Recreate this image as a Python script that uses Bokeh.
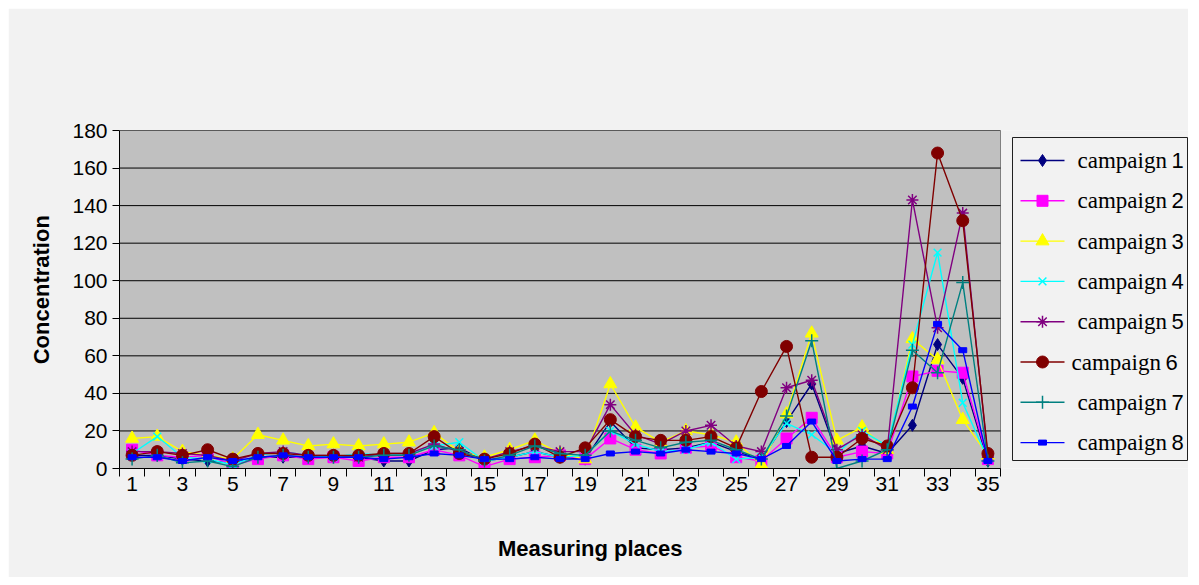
from bokeh.plotting import figure
from bokeh.models import FixedTicker, Range1d, LinearAxis
from bokeh.core.properties import value
from bokeh.embed import file_html
from bokeh.resources import INLINE

places = list(range(1, 36))
tick_labels = list(range(1, 36, 2))
y_ticks = list(range(0, 181, 20))

c1 = [7, 7, 5, 4, 3, 6, 6, 6, 6, 6, 4, 4, 10, 11, 4, 6, 9, 6, 5, 25, 11, 10, 11, 14, 9, 5, 25, 45, 8, 12, 8, 23, 66, 48, 4]
c2 = [10, 7, 6, 7, 2, 5, 7, 5, 6, 4, 6, 6, 10, 7, 1, 5, 6, 7, 5, 16, 10, 8, 11, 12, 6, 4, 16, 27, 6, 9, 8, 49, 52, 51, 5]
c3 = [16, 17, 9, 7, 5, 18, 15, 12, 13, 12, 13, 14, 19, 9, 6, 10, 15, 8, 5, 45, 22, 14, 20, 18, 14, 2, 29, 72, 15, 22, 10, 69, 58, 26, 7]
c4 = [8, 17, 6, 5, 2, 7, 9, 7, 6, 8, 7, 8, 12, 14, 4, 6, 9, 6, 7, 20, 13, 9, 10, 14, 5, 6, 24, 18, 8, 20, 12, 66, 115, 35, 5]
c5 = [9, 9, 8, 7, 4, 8, 9, 7, 7, 6, 8, 8, 13, 9, 5, 9, 12, 9, 9, 34, 18, 13, 20, 23, 12, 9, 43, 47, 10, 18, 10, 143, 75, 136, 6]
c6 = [7, 9, 7, 10, 5, 8, 8, 7, 7, 7, 8, 8, 17, 8, 5, 8, 13, 6, 11, 26, 17, 15, 15, 17, 11, 41, 65, 6, 6, 16, 12, 43, 168, 132, 8]
c7 = [5, 7, 3, 4, 1, 6, 7, 6, 6, 6, 7, 7, 12, 10, 4, 7, 12, 8, 7, 20, 15, 11, 14, 15, 10, 5, 28, 68, 0, 4, 10, 63, 51, 99, 4]
c8 = [6, 6, 4, 6, 4, 6, 7, 6, 6, 6, 5, 6, 8, 7, 5, 5, 6, 5, 5, 8, 9, 8, 10, 9, 8, 5, 12, 25, 4, 5, 5, 33, 77, 63, 4]

names = ["campaign 1", "campaign 2", "campaign 3", "campaign 4",
         "campaign 5", "campaign 6", "campaign 7", "campaign 8"]
values = [c1, c2, c3, c4, c5, c6, c7, c8]
colors = ["#000080", "#FF00FF", "#FFFF00", "#00FFFF",
          "#800080", "#800000", "#008080", "#0000FF"]
markers = ["diamond", "square", "triangle", "x", "asterisk", "circle", "cross", "dashrect"]
msizes = [12, 11, 13, 11, 12, 12, 13, 0]

x_title = "Measuring places"
y_title = "Concentration"

BG = "#f2f2f2"
FONT = "Liberation Sans"

# geometry of the figure (figure pixels); the figure sits at page offset (8, 8)
FIG_W, FIG_H = 1180, 569
LEFT, TOP, BOTTOM = 111, 122, 109
PLOT_W = 881                      # width of the grey plot area (35 categories)
UNIT = PLOT_W / 35.0
X0, X1 = 0.5, 35.5
XMAX = X0 + (FIG_W - LEFT) / UNIT  # frame extends under the legend
FRAME_H = FIG_H - TOP - BOTTOM
YMAX = 180


def px_x(page_x):
    return X0 + (page_x - 8 - LEFT) / UNIT


def px_y(page_y):
    return (TOP + FRAME_H - (page_y - 8)) * YMAX / FRAME_H


p = figure(width=FIG_W, height=FIG_H, x_range=Range1d(X0, XMAX), y_range=Range1d(0, YMAX),
           output_backend="svg", toolbar_location=None,
           min_border_left=LEFT, min_border_right=0, min_border_top=TOP, min_border_bottom=BOTTOM)
p.styles = {"margin-left": "8px", "margin-top": "8px"}
p.background_fill_color = BG
p.border_fill_color = BG
p.outline_line_color = None
p.xgrid.grid_line_color = None
p.ygrid.grid_line_color = None

# grey plot area and horizontal gridlines
p.quad(left=[X0], right=[X1], bottom=[0], top=[YMAX], fill_color="#c0c0c0", line_color="#808080")
p.segment(x0=[X0] * len(y_ticks), y0=y_ticks, x1=[X1] * len(y_ticks), y1=y_ticks,
          line_color="black", line_width=1)

p.yaxis.ticker = FixedTicker(ticks=y_ticks)
p.xaxis.ticker = FixedTicker(ticks=tick_labels, minor_ticks=[i + 0.5 for i in range(0, 36)])
p.xaxis.bounds = (X0, X1)
for ax in (p.xaxis[0], p.yaxis[0]):
    ax.axis_line_color = "black"
    ax.major_label_text_font = FONT
    ax.major_label_text_font_size = "21px"
    ax.major_label_text_color = "black"
p.yaxis.major_tick_out = 7
p.yaxis.major_tick_in = 0
p.yaxis.minor_tick_line_color = None
p.yaxis.major_tick_line_color = "black"
p.yaxis.major_label_standoff = 5
p.xaxis.major_tick_out = 0
p.xaxis.major_tick_in = 0
p.xaxis.major_tick_line_color = None
p.xaxis.minor_tick_out = 8
p.xaxis.minor_tick_in = 0
p.xaxis.minor_tick_line_color = "black"
p.xaxis.major_label_standoff = 0

# axis titles as single-tick axes (off-center placement like the original)
xt_pos = 19.2
yt_pos = 95.2
xt = LinearAxis(ticker=FixedTicker(ticks=[xt_pos]), major_label_overrides={xt_pos: x_title})
yt = LinearAxis(ticker=FixedTicker(ticks=[yt_pos]), major_label_overrides={yt_pos: y_title},
                major_label_orientation="vertical")
for ax, so in ((xt, 42), (yt, 15)):
    ax.axis_line_color = None
    ax.major_tick_line_color = None
    ax.minor_tick_line_color = None
    ax.major_tick_out = 0
    ax.major_tick_in = 0
    ax.major_label_standoff = so
    ax.major_label_text_font = FONT
    ax.major_label_text_font_style = "bold"
    ax.major_label_text_font_size = "22px"
    ax.major_label_text_color = "black"
p.add_layout(xt, "below")
p.add_layout(yt, "left")


def draw_marker(fig, xs, ys, col, mk, ms):
    if mk == "dashrect":
        fig.rect(xs, ys, width=8, height=5, width_units="screen", height_units="screen",
                 fill_color=col, line_color=col)
    elif mk in ("x", "asterisk", "cross"):
        fig.scatter(xs, ys, marker=mk, size=ms, line_color=col, line_width=1.5)
    else:
        fig.scatter(xs, ys, marker=mk, size=ms, fill_color=col, line_color=col)


for vals, col, mk, ms in zip(values, colors, markers, msizes):
    p.line(places, vals, line_color=col, line_width=1.4)
    draw_marker(p, places, vals, col, mk, ms)

# legend box (drawn manually so the number can use a different font, as in the original)
p.quad(left=[px_x(1012)], right=[px_x(1187)], top=[px_y(137)], bottom=[px_y(460)],
       fill_color=BG, line_color="#202020", line_width=1)
for i, (name, col, mk, ms) in enumerate(zip(names, colors, markers, msizes)):
    yy = px_y(160 + 40.3 * i)
    p.line([px_x(1020), px_x(1064)], [yy, yy], line_color=col, line_width=1.4)
    draw_marker(p, [px_x(1042)], [yy], col, mk, ms)
    word, num = name.split(" ")
    tx = 1071 if i == 5 else 1077
    nx = tx + 94
    p.text([px_x(tx)], [yy], text=[word], text_font=value("Liberation Serif"),
           text_font_size=value("23px"), text_baseline="middle", text_align="left",
           text_color="black")
    p.text([px_x(nx)], [yy], text=[num], text_font=value(FONT),
           text_font_size=value("22px"), text_baseline="middle", text_align="left",
           text_color="black")

open("out.html", "w").write(file_html(p, INLINE))
